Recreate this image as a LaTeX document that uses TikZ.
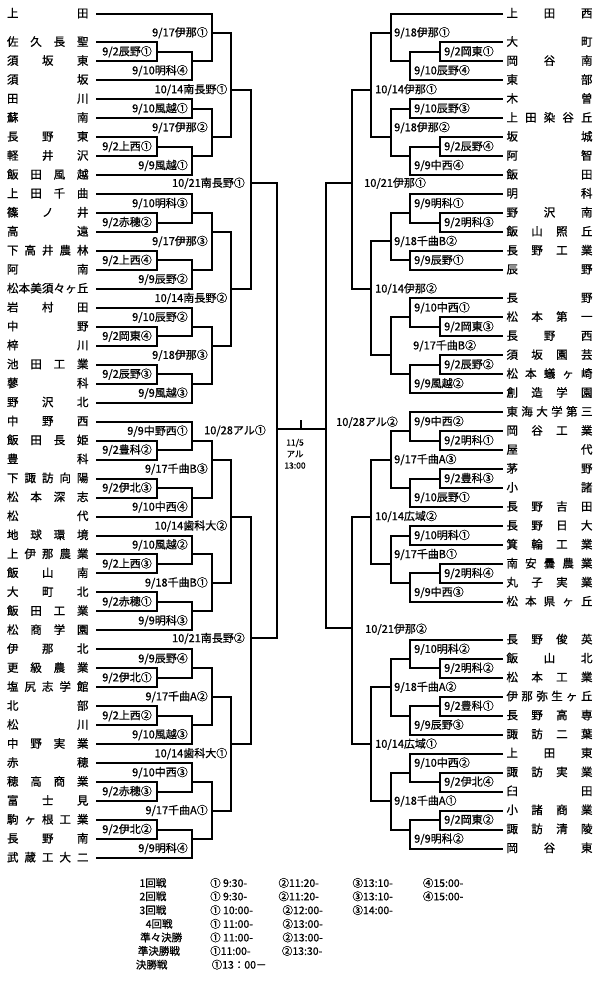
\documentclass[tikz,border=0pt]{standalone}
\usepackage{fontspec}
\setmainfont{Noto Sans CJK JP}[FakeBold=0.8]
\makeatletter
\def\spr@ad#1#2\@nil{#1\ifx\relax#2\relax\else\hfill\spr@ad#2\@nil\fi}
\newcommand\spreadname[2]{\makebox[#1]{\spr@ad#2\@nil}}
\makeatother
\tikzset{
  br/.style={line width=2pt, line cap=rect},
  tname/.style={inner sep=0pt, font=\fontsize{11.5}{12}\selectfont, text height=0.82em, text depth=0.1em},
  mlab/.style={inner sep=0pt, font=\fontsize{11}{12}\selectfont, text height=0.82em, text depth=0.1em},
  fin/.style={inner sep=0pt, font=\fontsize{8.5}{9}\selectfont, text height=0.82em, text depth=0.1em},
  tab/.style={inner sep=0pt, anchor=west, font=\fontsize{10.5}{11}\selectfont, text height=0.82em, text depth=0.1em}
}
\def\yk#1{(23.33+9.485*(#1))}
% left side
\newcommand\LT[4]{%
  \node[tname] (L#1) at (47.75,{\yk{#2}}) {\spreadname{81.5pt}{#3}};
  \draw[br] (97,{\yk{#2}}) -- (#4,{\yk{#2}});}
\newcommand\LB[3]{%
  \draw[br] (157.3,{\yk{#1}}) -- (157.3,{\yk{#2}});
  \draw[br] (157.3,{\yk{(#1+#2)/2}}) -- (191.7,{\yk{(#1+#2)/2}});
  \node[mlab,anchor=east] (lb#1) at (152,{\yk{(#1+#2)/2}}) {#3};}
\newcommand\LV[8]{%
  \draw[br] (#1,{\yk{#3}}) -- (#1,{\yk{#4}});
  \draw[br] (#1,{\yk{#5}}) -- (#2,{\yk{#5}});
  \node[mlab,anchor=east] (lv#1-#3) at (#7,{\yk{#6}}) {#8};}
% right side
\newcommand\RT[4]{%
  \node[tname] (R#1) at (549.5,{\yk{#2}}) {\spreadname{86pt}{#3}};
  \draw[br] (502.3,{\yk{#2}}) -- (#4,{\yk{#2}});}
\newcommand\RB[3]{%
  \draw[br] (440,{\yk{#1}}) -- (440,{\yk{#2}});
  \draw[br] (440,{\yk{(#1+#2)/2}}) -- (410,{\yk{(#1+#2)/2}});
  \node[mlab,anchor=west] (rb#1) at (444,{\yk{(#1+#2)/2}}) {#3};}
\newcommand\RV[8]{%
  \draw[br] (#1,{\yk{#3}}) -- (#1,{\yk{#4}});
  \draw[br] (#1,{\yk{#5}}) -- (#2,{\yk{#5}});
  \node[mlab,anchor=west] (rv#1-#3) at (#7,{\yk{#6}}) {#8};}
\begin{document}
\begin{tikzpicture}[x=1pt,y=-1pt]
\fill[white] (0,0) rectangle (600,987);
\useasboundingbox (0,0) rectangle (600,987);
% ---------- left teams ----------
\LT{0}{-1}{上田}{211.7}
\LT{1}{2}{佐久長聖}{157.3}
\LT{2}{4}{須坂東}{157.3}
\LT{3}{6}{須坂}{191.7}
\LT{4}{8}{田川}{191.7}
\LT{5}{10}{蘇南}{191.7}
\LT{6}{12}{長野東}{157.3}
\LT{7}{14}{軽井沢}{157.3}
\LT{8}{16}{飯田風越}{191.7}
\LT{9}{18}{上田千曲}{191.7}
\LT{10}{20}{篠ノ井}{157.3}
\LT{11}{22}{高遠}{157.3}
\LT{12}{24}{下高井農林}{157.3}
\LT{13}{26}{阿南}{157.3}
\LT{14}{28}{松本美須々ヶ丘}{191.7}
\LT{15}{30}{岩村田}{191.7}
\LT{16}{32}{中野}{157.3}
\LT{17}{34}{梓川}{157.3}
\LT{18}{36}{池田工業}{157.3}
\LT{19}{38}{蓼科}{157.3}
\LT{20}{40}{野沢北}{191.7}
\LT{21}{42}{中野西}{191.7}
\LT{22}{44}{飯田長姫}{157.3}
\LT{23}{46}{豊科}{157.3}
\LT{24}{48}{下諏訪向陽}{157.3}
\LT{25}{50}{松本深志}{157.3}
\LT{26}{52}{松代}{191.7}
\LT{27}{54}{地球環境}{191.7}
\LT{28}{56}{上伊那農業}{157.3}
\LT{29}{58}{飯山南}{157.3}
\LT{30}{60}{大町北}{157.3}
\LT{31}{62}{飯田工業}{157.3}
\LT{32}{64}{松商学園}{191.7}
\LT{33}{66}{伊那北}{191.7}
\LT{34}{68}{更級農業}{157.3}
\LT{35}{70}{塩尻志学館}{157.3}
\LT{36}{72}{北部}{157.3}
\LT{37}{74}{松川}{157.3}
\LT{38}{76}{中野実業}{191.7}
\LT{39}{78}{赤穂}{191.7}
\LT{40}{80}{穂高商業}{157.3}
\LT{41}{82}{富士見}{157.3}
\LT{42}{84}{駒ヶ根工業}{157.3}
\LT{43}{86}{長野南}{157.3}
\LT{44}{88}{武蔵工大二}{191.7}
% left first round
\LB{2}{4}{9/2辰野①}
\LB{12}{14}{9/2上西①}
\LB{20}{22}{9/2赤穂②}
\LB{24}{26}{9/2上西④}
\LB{32}{34}{9/2岡東④}
\LB{36}{38}{9/2辰野③}
\LB{44}{46}{9/2豊科②}
\LB{48}{50}{9/2伊北③}
\LB{56}{58}{9/2上西③}
\LB{60}{62}{9/2赤穂①}
\LB{68}{70}{9/2伊北①}
\LB{72}{74}{9/2上西②}
\LB{80}{82}{9/2赤穂③}
\LB{84}{86}{9/2伊北②}
% left second round
\LV{191.7}{211.7}{3}{6}{4}{5}{188}{9/10明科④}
\LV{191.7}{211.7}{8}{10}{9}{9}{188}{9/10風越①}
\LV{191.7}{211.7}{13}{16}{14}{15}{188}{9/9風越①}
\LV{191.7}{211.7}{18}{21}{20}{19}{188}{9/10明科③}
\LV{191.7}{211.7}{25}{28}{26}{27}{188}{9/9辰野②}
\LV{191.7}{211.7}{30}{33}{32}{31}{188}{9/10辰野②}
\LV{191.7}{211.7}{37}{40}{38}{39}{188}{9/9風越③}
\LV{191.7}{211.7}{42}{45}{44}{43}{188}{9/9中野西①}
\LV{191.7}{211.7}{49}{52}{50}{51}{188}{9/10中西④}
\LV{191.7}{211.7}{54}{57}{56}{55}{188}{9/10風越②}
\LV{191.7}{211.7}{61}{64}{62}{63}{188}{9/9明科③}
\LV{191.7}{211.7}{66}{69}{68}{67}{188}{9/9辰野④}
\LV{191.7}{211.7}{73}{76}{74}{75}{188}{9/10風越③}
\LV{191.7}{211.7}{78}{81}{80}{79}{188}{9/10中西③}
\LV{191.7}{211.7}{85}{88}{86}{87}{188}{9/9明科④}
% left third round
\LV{211.7}{231}{-1}{4}{1}{1}{208}{9/17伊那①}
\LV{211.7}{231}{9}{14}{12}{11}{208}{9/17伊那②}
\LV{211.7}{231}{20}{26}{22}{23}{208}{9/17伊那③}
\LV{211.7}{231}{32}{38}{34}{35}{208}{9/18伊那③}
\LV{211.7}{231}{44}{50}{46}{47}{208}{9/17千曲B③}
\LV{211.7}{231}{56}{62}{59}{59}{208}{9/18千曲B①}
\LV{211.7}{231}{68}{74}{71}{71}{208}{9/17千曲A②}
\LV{211.7}{231}{80}{86}{83}{83}{208}{9/17千曲A①}
% left fourth round
\LV{231}{251}{1}{12}{7}{7}{227.5}{10/14南長野①}
\LV{231}{251}{22}{34}{28}{29}{227.5}{10/14南長野②}
\LV{231}{251}{46}{59}{52}{53}{227.5}{10/14歯科大②}
\LV{231}{251}{71}{83}{76}{77}{227.5}{10/14歯科大①}
% left quarter finals
\draw[br] (251,{\yk{7}}) -- (251,{\yk{28}});
\draw[br] (251,183.3) -- (276.7,183.3);
\node[mlab,anchor=east] (qf1) at (245,183.3) {10/21南長野①};
\draw[br] (251,{\yk{52}}) -- (251,{\yk{76}});
\draw[br] (251,637.5) -- (276.7,637.5);
\node[mlab,anchor=east] (qf2) at (245,638.5) {10/21南長野②};
% ---------- right teams ----------
\RT{0}{-1}{上田西}{390.7}
\RT{1}{2}{大町}{440}
\RT{2}{4}{岡谷南}{440}
\RT{3}{6}{東部}{410}
\RT{4}{8}{木曽}{410}
\RT{5}{10}{上田染谷丘}{410}
\RT{6}{12}{坂城}{440}
\RT{7}{14}{阿智}{440}
\RT{8}{16}{飯田}{410}
\RT{9}{18}{明科}{410}
\RT{10}{20}{野沢南}{440}
\RT{11}{22}{飯山照丘}{440}
\RT{12}{24}{長野工業}{410}
\RT{13}{26}{辰野}{410}
\RT{14}{29}{長野}{410}
\RT{15}{31}{松本第一}{440}
\RT{16}{33}{長野西}{440}
\RT{17}{35}{須坂園芸}{440}
\RT{18}{37}{松本蟻ヶ崎}{440}
\RT{19}{39}{創造学園}{410}
\RT{20}{41}{東海大学第三}{410}
\RT{21}{43}{岡谷工業}{440}
\RT{22}{45}{屋代}{440}
\RT{23}{47}{茅野}{440}
\RT{24}{49}{小諸}{440}
\RT{25}{51}{長野吉田}{410}
\RT{26}{53}{長野日大}{410}
\RT{27}{55}{箕輪工業}{410}
\RT{28}{57}{南安曇農業}{440}
\RT{29}{59}{丸子実業}{440}
\RT{30}{61}{松本県ヶ丘}{410}
\RT{31}{65}{長野俊英}{410}
\RT{32}{67}{飯山北}{440}
\RT{33}{69}{松本工業}{440}
\RT{34}{71}{伊那弥生ヶ丘}{440}
\RT{35}{73}{長野高専}{440}
\RT{36}{75}{諏訪二葉}{410}
\RT{37}{77}{上田東}{410}
\RT{38}{79}{諏訪実業}{440}
\RT{39}{81}{臼田}{440}
\RT{40}{83}{小諸商業}{440}
\RT{41}{85}{諏訪清陵}{440}
\RT{42}{87}{岡谷東}{410}
% right first round
\RB{2}{4}{9/2岡東①}
\RB{12}{14}{9/2辰野④}
\RB{20}{22}{9/2明科③}
\RB{31}{33}{9/2岡東③}
\RB{35}{37}{9/2辰野②}
\RB{43}{45}{9/2明科①}
\RB{47}{49}{9/2豊科③}
\RB{57}{59}{9/2明科④}
\RB{67}{69}{9/2明科②}
\RB{71}{73}{9/2豊科①}
\RB{79}{81}{9/2伊北④}
\RB{83}{85}{9/2岡東②}
% right second round
\RV{410}{390.7}{3}{6}{4}{5}{414}{9/10辰野④}
\RV{410}{390.7}{8}{10}{9}{9}{414}{9/10辰野③}
\RV{410}{390.7}{13}{16}{14}{15}{414}{9/9中西④}
\RV{410}{390.7}{18}{21}{20}{19}{414}{9/9明科①}
\RV{410}{390.7}{24}{26}{25}{25}{414}{9/9辰野①}
\RV{410}{390.7}{29}{32}{31}{30}{414}{9/10中西①}
\RV{410}{390.7}{36}{39}{37}{38}{414}{9/9風越②}
\RV{410}{390.7}{41}{44}{43}{42}{414}{9/9中西②}
\RV{410}{390.7}{48}{51}{49}{50}{414}{9/10辰野①}
\RV{410}{390.7}{53}{55}{54}{54}{414}{9/10明科①}
\RV{410}{390.7}{58}{61}{59}{60}{414}{9/9中西③}
\RV{410}{390.7}{65}{68}{67}{66}{414}{9/10明科②}
\RV{410}{390.7}{72}{75}{73}{74}{414}{9/9辰野③}
\RV{410}{390.7}{77}{80}{79}{78}{414}{9/10中西②}
\RV{410}{390.7}{84}{87}{85}{86}{414}{9/9明科②}
% right third round
\RV{390.7}{371}{-1}{4}{1}{1}{394}{9/18伊那①}
\RV{390.7}{371}{9}{14}{12}{11}{394}{9/18伊那②}
\RV{390.7}{371}{20}{25}{23}{23}{394}{9/18千曲B②}
\RV{390.7}{371}{31}{37}{35}{34}{413}{9/17千曲B②}
\RV{390.7}{371}{43}{49}{46}{46}{394}{9/17千曲A③}
\RV{390.7}{371}{54}{59}{57}{56}{394}{9/17千曲B①}
\RV{390.7}{371}{67}{73}{70}{70}{394}{9/18千曲A②}
\RV{390.7}{371}{79}{85}{82}{82}{394}{9/18千曲A①}
% right fourth round
\RV{371}{351.7}{1}{12}{7}{7}{375}{10/14伊那①}
\RV{371}{351.7}{23}{35}{28}{28}{375}{10/14伊那②}
\RV{371}{351.7}{46}{57}{52}{52}{375}{10/14広域②}
\RV{371}{351.7}{70}{82}{76}{76}{375}{10/14広域①}
% right quarter finals
\draw[br] (351.7,{\yk{7}}) -- (351.7,{\yk{28}});
\draw[br] (351.7,183.3) -- (326,183.3);
\node[mlab,anchor=west] (qf3) at (364,183.3) {10/21伊那①};
\draw[br] (351.7,{\yk{52}}) -- (351.7,{\yk{76}});
\draw[br] (351.7,628.3) -- (326,628.3);
\node[mlab,anchor=west] (qf4) at (365,629.3) {10/21伊那②};
% ---------- semi finals and final ----------
\draw[br] (276.7,183.3) -- (276.7,637.5);
\draw[br] (326,183.3) -- (326,628.3);
\node[mlab,anchor=east] (sf1) at (266,430.7) {10/28アル①};
\node[mlab,anchor=west] (sf2) at (336,422.3) {10/28アル②};
\draw[br] (276.7,429.3) -- (326,429.3);
\draw[br] (301,420.7) -- (301,429.3);
\node[fin] (f1) at (295,442) {11/5};
\node[fin] (f2) at (295,453.5) {アル};
\node[fin] (f3) at (295,465) {13:00};
% ---------- schedule ----------
\node[tab] (s1) at (139.3,883.3) {1回戦};
\node[tab] (s2) at (139.3,896.7) {2回戦};
\node[tab] (s3) at (139.3,910.5) {3回戦};
\node[tab] (s4) at (145.5,924.2) {4回戦};
\node[tab] (s5) at (140,937.8) {準々決勝};
\node[tab] (s6) at (137.7,951.3) {準決勝戦};
\node[tab] (s7) at (135.7,965) {決勝戦};
\node[tab] (a1) at (210,883.3) {① 9:30-};
\node[tab] (a2) at (210,896.7) {① 9:30-};
\node[tab] (a3) at (210,910.5) {① 10:00-};
\node[tab] (a4) at (210,924.2) {① 11:00-};
\node[tab] (a5) at (210,937.8) {① 11:00-};
\node[tab] (a6) at (210,951.3) {①11:00-};
\node[tab] (a7) at (211.5,965) {①13：00－};
\node[tab] (b1) at (278.3,883.3) {②11:20-};
\node[tab] (b2) at (278.3,896.7) {②11:20-};
\node[tab] (b3) at (282.3,910.5) {②12:00-};
\node[tab] (b4) at (282.3,924.2) {②13:00-};
\node[tab] (b5) at (282.3,937.8) {②13:00-};
\node[tab] (b6) at (281.7,951.3) {②13:30-};
\node[tab] (c1) at (352.3,883.3) {③13:10-};
\node[tab] (c2) at (352.3,896.7) {③13:10-};
\node[tab] (c3) at (352.3,910.5) {③14:00-};
\node[tab] (d1) at (422.7,883.3) {④15:00-};
\node[tab] (d2) at (422.7,896.7) {④15:00-};
\end{tikzpicture}
\end{document}
